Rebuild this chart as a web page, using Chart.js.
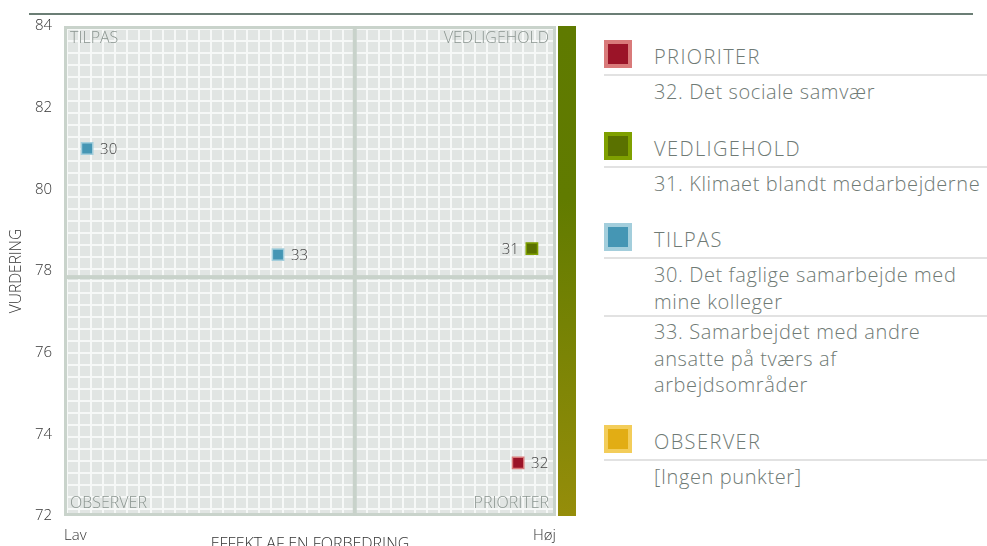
<!DOCTYPE html>
<html>
<head>
<meta charset="utf-8">
<script src="https://cdn.jsdelivr.net/npm/chart.js@4/dist/chart.umd.min.js"></script>
<style>
  html, body { margin: 0; padding: 0; background: #fff; overflow: hidden; width: 987px; height: 546px; }
  #wrap { position: absolute; left: 0; top: 0; width: 590px; height: 560px; }
  #topline { position: absolute; left: 29px; top: 13px; width: 944px; height: 2px; background: #6b7e75; }
  #legend { position: absolute; left: 604px; top: 40px; width: 383px; font-family: "Open Sans", sans-serif; font-weight: 300; color: #6f7a75; }
  .sec { margin-bottom: 26px; }
  .head { position: relative; height: 34px; border-bottom: 2px solid #e2e2e2; }
  .sw { position: absolute; left: 0; top: 0; width: 20px; height: 20px; border: 4px solid; }
  .head span { position: absolute; left: 50px; top: 3px; font-size: 20px; line-height: 28px; letter-spacing: 1.4px; }
  .item { padding: 3px 0 0 50px; width: 333px; font-size: 20px; line-height: 26.5px; letter-spacing: 0.6px; }
  .item + .item { border-top: 2px solid #e2e2e2; padding-top: 2px; }
</style>
</head>
<body>
<div id="topline"></div>
<div id="wrap"><canvas id="matrix"></canvas></div>
<div id="legend"></div>
<script>
// points
const pointIds = ['30', '31', '32', '33'];
const effectValues = [4.7, 95.1, 92.3, 43.5];
const ratingValues = [81.0, 78.55, 73.3, 78.4];
const pointTexts = [
    'Det faglige samarbejde med mine kolleger',
    'Klimaet blandt medarbejderne',
    'Det sociale samvær',
    'Samarbejdet med andre ansatte på tværs af arbejdsområder'
];
const pointGroups = ['TILPAS', 'VEDLIGEHOLD', 'PRIORITER', 'TILPAS'];

// quadrants (legend order)
const groupNames = ['PRIORITER', 'VEDLIGEHOLD', 'TILPAS', 'OBSERVER'];
const groupFill = ['#9b1428', '#5a7100', '#4596b4', '#e2ad14'];
const groupBorder = ['#d97a7a', '#7fa000', '#a3cedc', '#f3cd5a'];
const emptyText = '[Ingen punkter]';

// axes
const xTickLabels = ['Lav', 'Høj'];
const yTicks = [72, 74, 76, 78, 80, 82, 84];
const xSplit = 59.1;
const ySplit = 77.85;

const datasets = groupNames.map((g, gi) => {
    const idx = pointIds.map((_, i) => i).filter(i => pointGroups[i] === g);
    return {
        label: g,
        data: idx.map(i => ({ x: effectValues[i], y: ratingValues[i], id: pointIds[i] })),
        pointStyle: 'rect',
        pointRadius: 8,
        pointHoverRadius: 8,
        backgroundColor: groupFill[gi],
        borderColor: groupBorder[gi],
        borderWidth: 1.5
    };
});

// background texture, frame, quadrant lines, side bar
const backdrop = {
    id: 'backdrop',
    beforeDatasetsDraw(chart) {
        const { ctx, chartArea: a, scales } = chart;
        const tile = document.createElement('canvas');
        tile.width = 12; tile.height = 12;
        const t = tile.getContext('2d');
        t.fillStyle = '#f6f8f7';
        t.fillRect(0, 0, 12, 12);
        t.fillStyle = '#e1e5e3';
        t.fillRect(1, 1, 10, 10);
        ctx.save();
        ctx.fillStyle = '#c9d3cb';
        ctx.fillRect(a.left, a.top, a.width, a.height);
        ctx.translate(a.left + 3, a.top + 3);
        ctx.fillStyle = ctx.createPattern(tile, 'repeat');
        ctx.fillRect(0, 0, a.width - 6, a.height - 6);
        ctx.restore();

        const sx = scales.x.getPixelForValue(xSplit);
        const sy = scales.y.getPixelForValue(ySplit);
        ctx.save();
        ctx.fillStyle = '#c8d2ca';
        ctx.fillRect(sx - 2, a.top, 4, a.height);
        ctx.fillRect(a.left, sy - 2, a.width, 4);

        const grad = ctx.createLinearGradient(0, a.top, 0, a.bottom);
        grad.addColorStop(0, '#5f7a00');
        grad.addColorStop(0.35, '#617b00');
        grad.addColorStop(1, '#958d0a');
        ctx.fillStyle = grad;
        ctx.fillRect(a.right + 2, a.top, 18, a.height);

        ctx.font = '300 16px "Open Sans", sans-serif';
        ctx.fillStyle = '#8b9590';
        ctx.textBaseline = 'middle';
        ctx.textAlign = 'left';
        ctx.fillText(groupNames[2], a.left + 6, a.top + 12);
        ctx.fillText(groupNames[3], a.left + 6, a.bottom - 13);
        ctx.textAlign = 'right';
        ctx.fillText(groupNames[1], a.right - 7, a.top + 12);
        ctx.fillText(groupNames[0], a.right - 7, a.bottom - 13);
        ctx.restore();
    },
    afterDatasetsDraw(chart) {
        const { ctx, chartArea: a } = chart;
        ctx.save();
        ctx.font = '300 15px "Open Sans", sans-serif';
        ctx.fillStyle = '#444';
        ctx.textBaseline = 'middle';
        chart.data.datasets.forEach((ds, di) => {
            chart.getDatasetMeta(di).data.forEach((el, i) => {
                const txt = ds.data[i].id;
                const w = ctx.measureText(txt).width;
                if (el.x + 13 + w > a.right - 4) {
                    ctx.textAlign = 'right';
                    ctx.fillText(txt, el.x - 13, el.y + 1);
                } else {
                    ctx.textAlign = 'left';
                    ctx.fillText(txt, el.x + 13, el.y + 1);
                }
            });
        });
        ctx.restore();
    }
};

new Chart(document.getElementById('matrix'), {
    type: 'scatter',
    data: { datasets: datasets },
    options: {
        responsive: true,
        maintainAspectRatio: false,
        animation: false,
        layout: { padding: { top: 26, right: 34, left: 0, bottom: 0 } },
        plugins: { legend: { display: false }, tooltip: { enabled: false } },
        scales: {
            x: {
                min: 0,
                max: 100,
                afterFit(s) { s.height = 44; },
                afterBuildTicks(s) { s.ticks = [{ value: s.min }, { value: s.max }]; },
                grid: { display: false, drawTicks: false },
                border: { display: false },
                ticks: {
                    align: 'inner',
                    padding: 11,
                    color: '#333',
                    font: { family: 'Open Sans', size: 15, weight: 300 },
                    callback: (v, i) => xTickLabels[i]
                },
                title: {
                    display: true,
                    text: 'EFFEKT AF EN FORBEDRING',
                    color: '#333',
                    font: { family: 'Open Sans', size: 16, weight: 300 },
                    padding: { top: 0, bottom: 6 }
                }
            },
            y: {
                min: yTicks[0],
                max: yTicks[yTicks.length - 1],
                afterFit(s) { s.width = 64; },
                afterBuildTicks(s) { s.ticks = yTicks.map(v => ({ value: v })); },
                grid: { display: false, drawTicks: false },
                border: { display: false },
                ticks: {
                    padding: 12,
                    color: '#333',
                    font: { family: 'Open Sans', size: 15, weight: 300 }
                },
                title: {
                    display: true,
                    text: 'VURDERING',
                    color: '#333',
                    font: { family: 'Open Sans', size: 15.5, weight: 300 },
                    padding: { top: 7, bottom: 0 }
                }
            }
        }
    },
    plugins: [backdrop]
});

// legend on the right
const legend = document.getElementById('legend');
groupNames.forEach((g, gi) => {
    const sec = document.createElement('div');
    sec.className = 'sec';
    const head = document.createElement('div');
    head.className = 'head';
    const sw = document.createElement('div');
    sw.className = 'sw';
    sw.style.background = groupFill[gi];
    sw.style.borderColor = groupBorder[gi];
    const name = document.createElement('span');
    name.textContent = g;
    head.appendChild(sw);
    head.appendChild(name);
    sec.appendChild(head);
    const members = pointIds.map((_, i) => i).filter(i => pointGroups[i] === g);
    if (members.length === 0) {
        const it = document.createElement('div');
        it.className = 'item';
        it.textContent = emptyText;
        sec.appendChild(it);
    }
    members.forEach(i => {
        const it = document.createElement('div');
        it.className = 'item';
        it.textContent = pointIds[i] + '. ' + pointTexts[i];
        sec.appendChild(it);
    });
    legend.appendChild(sec);
});
</script>
</body>
</html>
